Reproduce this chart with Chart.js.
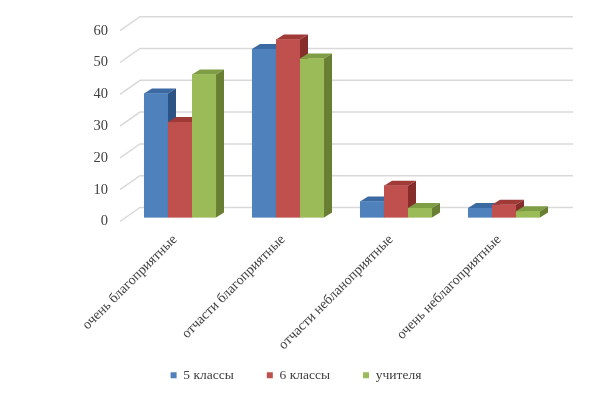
<!DOCTYPE html>
<html>
<head>
<meta charset="utf-8">
<script src="https://cdn.jsdelivr.net/npm/chart.js@4/dist/chart.umd.min.js"></script>
<style>
  html, body { margin: 0; padding: 0; background: #ffffff; }
  #wrap { width: 600px; height: 395px; position: relative; }
</style>
</head>
<body>
<div id="wrap"><canvas id="c" width="600" height="395"></canvas></div>
<script>
const categories = ["очень благоприятные", "отчасти благоприятные", "отчасти небланоприятные", "очень неблагоприятные"];
const seriesNames = ["5 классы", "6 классы", "учителя"];
const grade5 = [39, 53, 5, 3];
const grade6 = [30, 56, 10, 4];
const teachers = [45, 50, 3, 2];
const yTicks = [0, 10, 20, 30, 40, 50, 60];

const frontColors = ["#4F81BD", "#C0504D", "#9BBB59"];
const topColors = ["#3B6AA3", "#A03A37", "#7F9D44"];
const sideColors = ["#2D5385", "#862D2B", "#687F33"];
const DX = 8, DY = -5;
const FONT = "'Liberation Serif', 'Times New Roman', serif";

const threeD = {
  id: 'threeD',
  afterLayout(chart) {
    // let the rotated category labels extend below the axis box without clipping
    chart.scales.x.bottom = chart.height;
  },
  beforeDatasetsDraw(chart) {
    const ctx = chart.ctx;
    const ys = chart.scales.y;
    const area = chart.chartArea;
    ctx.save();
    ctx.strokeStyle = '#d9d9d9';
    ctx.lineWidth = 1.5;
    yTicks.forEach(v => {
      const yp = ys.getPixelForValue(v);
      ctx.beginPath();
      ctx.moveTo(area.left - 6, yp + 4);
      ctx.lineTo(area.left + 14, yp - 10);
      ctx.lineTo(area.right + 15, yp - 10);
      ctx.stroke();
    });
    ctx.restore();
  },
  afterDatasetsDraw(chart) {
    const ctx = chart.ctx;
    ctx.save();
    chart.data.datasets.forEach((ds, di) => {
      const meta = chart.getDatasetMeta(di);
      meta.data.forEach(el => {
        const p = el.getProps(['x', 'y', 'base', 'width'], true);
        const l = p.x - p.width / 2, r = p.x + p.width / 2, t = p.y, b = p.base;
        ctx.fillStyle = topColors[di];
        ctx.beginPath();
        ctx.moveTo(l, t);
        ctx.lineTo(l + DX, t + DY);
        ctx.lineTo(r + DX, t + DY);
        ctx.lineTo(r, t);
        ctx.closePath();
        ctx.fill();
        ctx.fillStyle = sideColors[di];
        ctx.beginPath();
        ctx.moveTo(r, t);
        ctx.lineTo(r + DX, t + DY);
        ctx.lineTo(r + DX, b + DY);
        ctx.lineTo(r, b);
        ctx.closePath();
        ctx.fill();
        ctx.fillStyle = frontColors[di];
        ctx.fillRect(l, t, r - l, b - t);
      });
    });
    ctx.restore();
  }
};

new Chart(document.getElementById('c'), {
  type: 'bar',
  data: {
    labels: categories,
    datasets: [
      { label: seriesNames[0], data: grade5, backgroundColor: frontColors[0], borderWidth: 0 },
      { label: seriesNames[1], data: grade6, backgroundColor: frontColors[1], borderWidth: 0 },
      { label: seriesNames[2], data: teachers, backgroundColor: frontColors[2], borderWidth: 0 }
    ]
  },
  options: {
    responsive: false,
    animation: false,
    devicePixelRatio: 1,
    categoryPercentage: 0.667,
    barPercentage: 1.0,
    layout: { padding: { top: 23, right: 8, bottom: 3, left: 0 } },
    plugins: {
      tooltip: { enabled: false },
      legend: {
        position: 'bottom',
        labels: {
          boxWidth: 6,
          boxHeight: 6,
          padding: 33,
          color: '#404040',
          font: { family: FONT, size: 13.5 }
        }
      }
    },
    scales: {
      x: {
        grid: { display: false, drawTicks: false },
        border: { display: false },
        ticks: {
          autoSkip: false,
          maxRotation: 45,
          minRotation: 45,
          padding: 14,
          labelOffset: -5,
          color: '#404040',
          font: { family: FONT, size: 14 }
        },
        afterFit(scale) { scale.height = 118; }
      },
      y: {
        min: 0,
        max: 60,
        grid: { display: false, drawTicks: false },
        border: { display: false },
        ticks: {
          stepSize: 10,
          padding: 18,
          labelOffset: 4,
          color: '#404040',
          font: { family: FONT, size: 14.5 }
        },
        afterFit(scale) { scale.width = 126; }
      },
      yRight: {
        position: 'right',
        display: true,
        grid: { display: false, drawTicks: false },
        border: { display: false },
        ticks: { display: false },
        afterFit(scale) { scale.width = 34; }
      }
    }
  },
  plugins: [threeD]
});
</script>
</body>
</html>
